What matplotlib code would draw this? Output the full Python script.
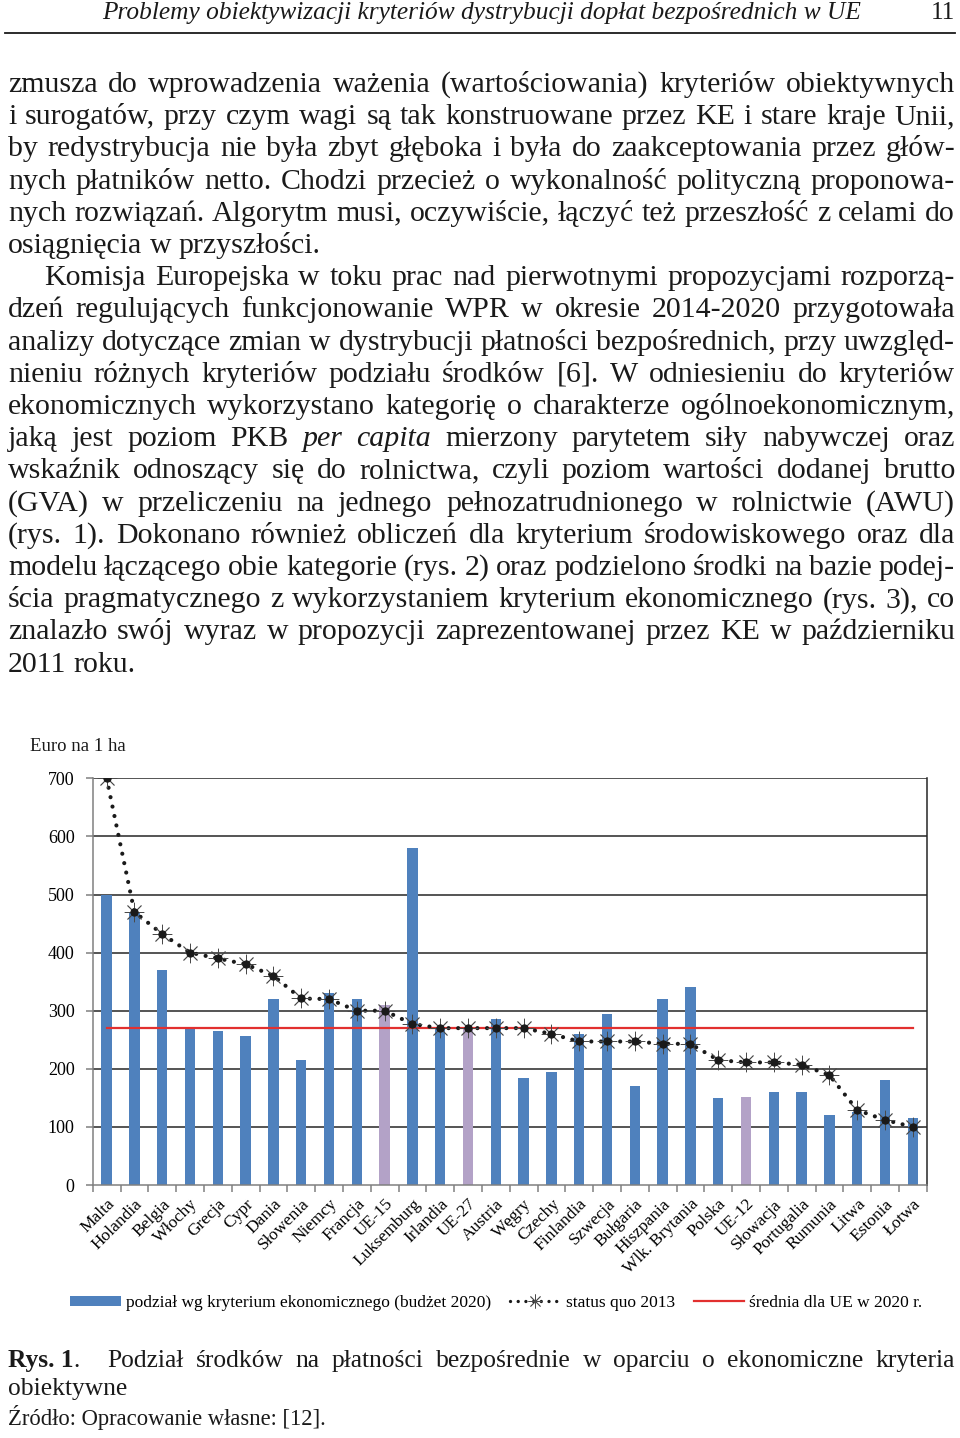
import matplotlib
matplotlib.use('Agg')
import matplotlib.pyplot as plt
from matplotlib.lines import Line2D
from matplotlib.patches import Patch
import numpy as np

# ---------------- data ----------------
categories = ['Malta', 'Holandia', 'Belgia', 'Włochy', 'Grecja', 'Cypr', 'Dania',
              'Słowenia', 'Niemcy', 'Francja', 'UE-15', 'Luksemburg', 'Irlandia',
              'UE-27', 'Austria', 'Węgry', 'Czechy', 'Finlandia', 'Szwecja',
              'Bułgaria', 'Hiszpania', 'Wlk. Brytania', 'Polska', 'UE-12',
              'Słowacja', 'Portugalia', 'Rumunia', 'Litwa', 'Estonia', 'Łotwa']
budget_2020 = [500, 470, 370, 270, 265, 257, 320, 215, 330, 320, 310, 580, 270,
               270, 285, 185, 195, 260, 295, 170, 320, 340, 150, 152, 160, 160,
               120, 125, 180, 115]
status_quo_2013 = [700, 470, 432, 400, 390, 380, 360, 321, 320, 300, 300, 277,
                   270, 270, 270, 270, 260, 247, 247, 247, 243, 243, 215, 211,
                   211, 207, 189, 129, 112, 100]
eu_mean_2020 = 270
aggregates = ['UE-15', 'UE-27', 'UE-12']
yticks = [0, 100, 200, 300, 400, 500, 600, 700]
legend_labels = ['podział wg kryterium ekonomicznego (budżet 2020)',
                 'status quo 2013', 'średnia dla UE w 2020 r.']

header_title = 'Problemy obiektywizacji kryteriów dystrybucji dopłat bezpośrednich w UE'
page_number = '11'
body_lines = [
    ('zmusza do wprowadzenia ważenia (wartościowania) kryteriów obiektywnych', True, 0),
    ('i surogatów, przy czym wagi są tak konstruowane przez KE i stare kraje Unii,', True, 0),
    ('by redystrybucja nie była zbyt głęboka i była do zaakceptowania przez głów-', True, 0),
    ('nych płatników netto. Chodzi przecież o wykonalność polityczną proponowa-', True, 0),
    ('nych rozwiązań. Algorytm musi, oczywiście, łączyć też przeszłość z celami do', True, 0),
    ('osiągnięcia w przyszłości.', False, 0),
    ('Komisja Europejska w toku prac nad pierwotnymi propozycjami rozporzą-', True, 36),
    ('dzeń regulujących funkcjonowanie WPR w okresie 2014-2020 przygotowała', True, 0),
    ('analizy dotyczące zmian w dystrybucji płatności bezpośrednich, przy uwzględ-', True, 0),
    ('nieniu różnych kryteriów podziału środków [6]. W odniesieniu do kryteriów', True, 0),
    ('ekonomicznych wykorzystano kategorię o charakterze ogólnoekonomicznym,', True, 0),
    ('jaką jest poziom PKB *per* *capita* mierzony parytetem siły nabywczej oraz', True, 0),
    ('wskaźnik odnoszący się do rolnictwa, czyli poziom wartości dodanej brutto', True, 0),
    ('(GVA) w przeliczeniu na jednego pełnozatrudnionego w rolnictwie (AWU)', True, 0),
    ('(rys. 1). Dokonano również obliczeń dla kryterium środowiskowego oraz dla', True, 0),
    ('modelu łączącego obie kategorie (rys. 2) oraz podzielono środki na bazie podej-', True, 0),
    ('ścia pragmatycznego z wykorzystaniem kryterium ekonomicznego (rys. 3), co', True, 0),
    ('znalazło swój wyraz w propozycji zaprezentowanej przez KE w październiku', True, 0),
    ('2011 roku.', False, 0),
]
caption_label = 'Rys. 1'
caption_line1 = 'Podział środków na płatności bezpośrednie w oparciu o ekonomiczne kryteria'
caption_line2 = 'obiektywne'
source_text = 'Źródło: Opracowanie własne: [12].'
y_axis_title = 'Euro na 1 ha'

# ---------------- styles ----------------
SERIF = ['Liberation Serif', 'DejaVu Serif']
plt.rcParams['font.family'] = SERIF
BLUE = '#4f81bd'
LILAC = '#b3a2c7'
RED = '#e2302f'
INK = '#1a1a1a'

W, H = 960, 1438
fig = plt.figure(figsize=(W / 100, H / 100), dpi=100)
fig.patch.set_facecolor('white')
page = fig.add_axes([0, 0, 1, 1])
page.set_xlim(0, W)
page.set_ylim(H, 0)
page.axis('off')
renderer = fig.canvas.get_renderer()


def text_width(s, size, **kw):
    t = page.text(0, 0, s, fontsize=size, family=SERIF, **kw)
    w = t.get_window_extent(renderer).width
    t.remove()
    return w


def fit_size(s, target, ref=20.0, **kw):
    return ref * target / text_width(s, ref, **kw)


def draw_line(s, y, x0, x1, size, justify, weight='normal'):
    words = s.split(' ')
    objs = []
    for w in words:
        style = 'normal'
        if w.startswith('*') and w.endswith('*'):
            w = w.strip('*')
            style = 'italic'
        objs.append(page.text(0, y, w, fontsize=size, family=SERIF, style=style,
                              weight=weight, va='baseline', ha='left', color=INK))
    widths = [o.get_window_extent(renderer).width for o in objs]
    if justify and len(objs) > 1:
        gap = (x1 - x0 - sum(widths)) / (len(objs) - 1)
    else:
        gap = size * 100 / 72 * 0.25
    x = x0
    for o, w in zip(objs, widths):
        o.set_x(x)
        x += w + gap
    return x


# ---------------- header ----------------
hsize = fit_size(header_title, 760, style='italic')
page.text(102, 19, header_title, fontsize=hsize, style='italic', va='baseline',
          ha='left', color=INK)
page.text(955, 19, page_number, fontsize=hsize, va='baseline', ha='right', color=INK)
page.plot([5, 955], [33, 33], color=INK, lw=1.3)

# ---------------- body ----------------
bsize = 0.5 * (fit_size('osiągnięcia w przyszłości.', 315) + fit_size('2011 roku.', 127))
for i, (line, just, indent) in enumerate(body_lines):
    draw_line(line, 92 + 32.2 * i, 8 + indent, 955, bsize, just)

# ---------------- caption ----------------
csize = fit_size(caption_line2, 119)
lab = page.text(8, 1367, caption_label, fontsize=csize, weight='bold', va='baseline',
                ha='left', color=INK)
lw_ = lab.get_window_extent(renderer).width
page.text(8 + lw_, 1367, '.', fontsize=csize, va='baseline', ha='left', color=INK)
draw_line(caption_line1, 1367, 107, 955, csize, True)
page.text(8, 1395, caption_line2, fontsize=csize, va='baseline', ha='left', color=INK)
ssize = fit_size(source_text, 317)
page.text(8, 1425, source_text, fontsize=ssize, va='baseline', ha='left', color=INK)

# ---------------- chart ----------------
page.text(30, 751, y_axis_title, fontsize=13.5, va='baseline', ha='left', color=INK)

left, right, top, bottom = 92.7, 926.7, 778.3, 1185.0
ax = fig.add_axes([left / W, 1 - bottom / H, (right - left) / W, (bottom - top) / H])
x = np.arange(len(categories))
colors = [LILAC if c in aggregates else BLUE for c in categories]

ax.set_ylim(0, 700)
ax.set_xlim(-0.5, len(categories) - 0.5)
for v in yticks[1:]:
    ax.axhline(v, color='#262626', lw=1.1, zorder=1)

ax.bar(x, budget_2020, width=0.38, color=colors, zorder=2)
ax.plot(x, [eu_mean_2020] * len(x), color=RED, lw=1.6, zorder=3)
ax.plot(x, status_quo_2013, color=INK, lw=3.0, linestyle=(0, (0.01, 2.3)),
        dash_capstyle='round', zorder=4)
ax.plot(x, status_quo_2013, linestyle='none', marker=(8, 2, 0), ms=14, mew=0.6,
        color='#4a4a4a', zorder=5)
ax.plot(x, status_quo_2013, linestyle='none', marker='o', ms=5, color=INK, zorder=5)

ax.set_yticks(yticks)
ax.set_yticklabels([str(v) for v in yticks], fontsize=13)
ax.set_xticks(x)
ax.set_xticklabels(categories, fontsize=12.5, rotation=45, ha='right',
                   rotation_mode='anchor')
ax.set_xticks(np.arange(-0.5, len(categories), 1.0), minor=True)
ax.tick_params(axis='x', which='major', length=0, pad=8)
ax.tick_params(axis='x', which='minor', length=5, color='#808080', width=1.1)
ax.tick_params(axis='y', length=5, color='#808080', width=1.1, pad=8)
for sp in ['left', 'bottom']:
    ax.spines[sp].set_color('#808080')
    ax.spines[sp].set_linewidth(1.1)
ax.spines['right'].set_color('#262626')
ax.spines['right'].set_linewidth(1.1)
ax.spines['top'].set_visible(False)
ax.set_facecolor('none')

handles = [Patch(facecolor=BLUE, edgecolor='none'),
           Line2D([], [], color=INK, lw=2.4, linestyle=(0, (0.01, 2.3)),
                  dash_capstyle='round', marker=(8, 2, 0), ms=10, mew=0.6,
                  markeredgecolor='#4a4a4a', markevery=[1]),
           Line2D([], [], color=RED, lw=1.6)]
fig.legend(handles, legend_labels, loc='center', bbox_to_anchor=(0.517, 1 - 1303 / H),
           ncol=3, frameon=False, fontsize=12.5, handlelength=2.9, handleheight=0.55,
           handletextpad=0.3, columnspacing=1.1)

fig.savefig('out.png', dpi=100, facecolor='white')
